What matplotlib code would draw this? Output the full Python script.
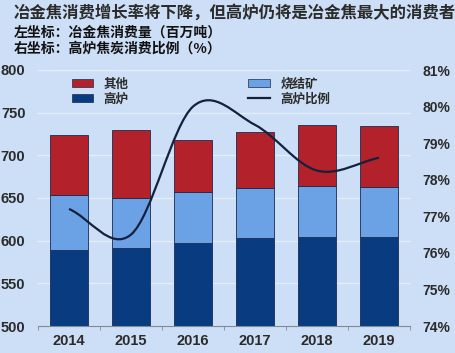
import matplotlib
matplotlib.use("Agg")
import matplotlib.pyplot as plt
from matplotlib.path import Path
from matplotlib.patches import PathPatch
from matplotlib.lines import Line2D
from matplotlib.patches import Patch
import numpy as np

plt.rcParams['font.family'] = ['Noto Sans CJK SC', 'DejaVu Sans']

years = ["2014", "2015", "2016", "2017", "2018", "2019"]
blast = [589, 591, 597, 603, 604, 604]          # 高炉
sinter = [65, 59, 60, 59, 60, 59]               # 烧结矿
other = [70, 80, 61, 65, 72, 71]                # 其他
ratio = [77.2, 76.5, 80.0, 79.5, 78.25, 78.6]   # 高炉比例 (%)

RED, LIGHT, DARK = "#b3222a", "#6ba2e6", "#083b80"
BG = "#cddff6"
TXT = "#2b2b2b"

fig = plt.figure(figsize=(4.56, 3.53), dpi=100, facecolor=BG)
ax = fig.add_axes([38/456, 1 - 326/353, (410-38)/456, (326-70)/353])
ax.set_facecolor(BG)

x = np.arange(len(years))
w = 0.6
b2 = np.array(blast) + np.array(sinter)
ax.bar(x, blast, w, color=DARK, edgecolor="#1a2a50", linewidth=0.6, zorder=2)
ax.bar(x, sinter, w, bottom=blast, color=LIGHT, edgecolor="#1a2a50", linewidth=0.6, zorder=2)
ax.bar(x, other, w, bottom=b2, color=RED, edgecolor="#1a2a50", linewidth=0.6, zorder=2)

ax.set_ylim(500, 800)
ax.set_xlim(-0.5, len(years) - 0.5)
ax.set_yticks(range(500, 801, 50))
ax.yaxis.grid(True, color="#e4eefb", linewidth=1.0, zorder=0)
for s in ["top", "right", "left"]:
    ax.spines[s].set_visible(False)
ax.spines["bottom"].set_color("#7f8a99")
ax.set_xticks(x)
ax.set_xticklabels(years)
ax.set_xticks(np.arange(len(years) + 1) - 0.5, minor=True)
ax.tick_params(axis="x", which="major", length=0, pad=6)
ax.tick_params(axis="x", which="minor", length=3, color="#7f8a99", direction="out")
ax.tick_params(axis="y", length=0, pad=9)
for lab in ax.get_xticklabels() + ax.get_yticklabels():
    lab.set_fontfamily("Liberation Sans")
    lab.set_fontweight("bold")
    lab.set_fontsize(10.5)
    lab.set_color(TXT)

ax2 = ax.twinx()
ax2.set_ylim(74, 81)
ax2.set_yticks(range(74, 82))
ax2.set_yticklabels([f"{v}%" for v in range(74, 82)])
for s in ax2.spines.values():
    s.set_visible(False)
ax2.tick_params(axis="y", length=0, pad=9)
for lab in ax2.get_yticklabels():
    lab.set_fontfamily("Liberation Sans")
    lab.set_fontweight("bold")
    lab.set_fontsize(10)
    lab.set_color(TXT)

# smooth line through the ratio points (Catmull-Rom as cubic Bezier)
pts = np.column_stack([x, ratio]).astype(float)
n = len(pts)
tang = np.zeros_like(pts)
for i in range(n):
    a = pts[max(i - 1, 0)]
    b = pts[min(i + 1, n - 1)]
    tang[i] = (b - a) / (2 if 0 < i < n - 1 else 1)
verts = [pts[0]]
codes = [Path.MOVETO]
for i in range(n - 1):
    verts += [pts[i] + tang[i] / 3, pts[i + 1] - tang[i + 1] / 3, pts[i + 1]]
    codes += [Path.CURVE4] * 3
ax2.add_patch(PathPatch(Path(verts, codes), facecolor="none",
                        edgecolor="#14213d", linewidth=1.6, zorder=3))

handles = [Patch(facecolor=RED, edgecolor="#1a2a50", linewidth=0.5),
           Patch(facecolor=DARK, edgecolor="#1a2a50", linewidth=0.5),
           Patch(facecolor=LIGHT, edgecolor="#1a2a50", linewidth=0.5),
           Line2D([], [], color="#14213d", linewidth=1.6)]
labels = ["其他", "高炉", "烧结矿", "高炉比例"]
leg = ax2.legend(handles, labels, ncol=2, loc="upper left",
                 bbox_to_anchor=(0.06, 1.015), frameon=False,
                 handlelength=1.75, handleheight=0.6, columnspacing=9.6,
                 labelspacing=0.15, prop={"family": ["Noto Sans CJK SC"], "weight": "bold", "size": 9})
for t in leg.get_texts():
    t.set_color(TXT)

fig.text(0.03, 0.965, "冶金焦消费增长率将下降，但高炉仍将是冶金焦最大的消费者",
         fontsize=11.8, fontweight="bold", color=TXT, va="center")
fig.text(0.03, 0.907, "左坐标：冶金焦消费量（百万吨）",
         fontsize=10, fontweight="bold", color="#111111", va="center")
fig.text(0.03, 0.862, "右坐标：高炉焦炭消费比例（%）",
         fontsize=10, fontweight="bold", color="#111111", va="center")

fig.savefig("out.png", dpi=100, facecolor=BG)
